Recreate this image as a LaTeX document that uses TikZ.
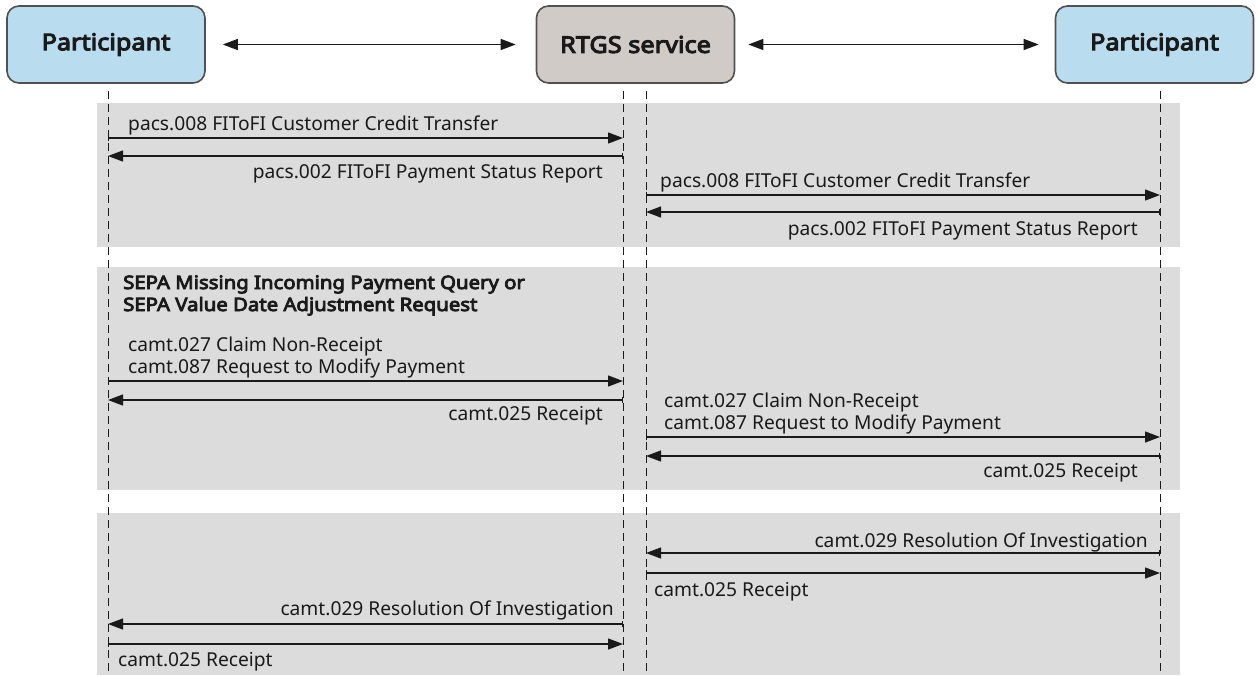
\documentclass[tikz,border=0pt]{standalone}
\usepackage{fontspec}
\setmainfont{Noto Sans}
\newfontfamily\heavyface{Noto Sans}[FakeBold=4.5,FakeStretch=1.1]
\usetikzlibrary{arrows.meta}

\definecolor{partblue}{HTML}{B9DCEE}
\definecolor{rtgsgray}{HTML}{D0CBC6}
\definecolor{boxline}{HTML}{505050}
\definecolor{bandgray}{HTML}{DCDCDC}
\definecolor{ink}{HTML}{1A1A1A}

\begin{document}
\begin{tikzpicture}[x=1pt,y=-1pt,
  actor/.style={draw=boxline, line width=1.6pt, rounded corners=12pt,
    minimum width=198pt, minimum height=77pt, inner sep=0pt,
    font=\heavyface\fontsize{23}{26}\selectfont, text=ink},
  band/.style={fill=bandgray, draw=none},
  lifeline/.style={draw=ink, line width=0.9pt, dash pattern=on 8pt off 5pt},
  msg/.style={draw=ink, line width=1.3pt,
    arrows={Bar[width=6pt,line width=0.8pt]-Triangle[length=15pt,width=11pt]}},
  link/.style={draw=ink, line width=1.3pt,
    arrows={Triangle[length=15pt,width=11pt]-Triangle[length=15pt,width=11pt]}},
  lbl/.style={inner sep=0pt, text=ink, font=\fontsize{19.2}{22}\selectfont},
  head/.style={inner sep=0pt, text=ink, font=\heavyface\fontsize{18.5}{22}\selectfont}
]
\useasboundingbox (0,0) rectangle (1258,675);

% grey background bands for the three exchanges
\fill[band] (97,103) rectangle (1180,247);
\fill[band] (97,267) rectangle (1180,490);
\fill[band] (97,513) rectangle (1180,675);

% actors
\node[actor, fill=partblue] (p1) at (106,44.5) {Participant};
\node[actor, fill=rtgsgray] (rtgs) at (635.5,44.5) {RTGS service};
\node[actor, fill=partblue] (p2) at (1154.5,44.5) {Participant};

\draw[link, shorten <=17pt, shorten >=20pt] (p1.east) -- (rtgs.west);
\draw[link, shorten <=13pt, shorten >=16pt] (rtgs.east) -- (p2.west);

% lifelines
\coordinate (lA0) at (108,91);   \coordinate (lA1) at (108,675);
\coordinate (lB0) at (623,91);   \coordinate (lB1) at (623,675);
\coordinate (lC0) at (646,91);   \coordinate (lC1) at (646,675);
\coordinate (lD0) at (1160,91);  \coordinate (lD1) at (1160,675);
\draw[lifeline] (lA0) -- (lA1);
\draw[lifeline] (lB0) -- (lB1);
\draw[lifeline] (lC0) -- (lC1);
\draw[lifeline] (lD0) -- (lD1);

% --- pacs.008 / pacs.002 ---
\coordinate (a1) at (108,138);  \coordinate (b1) at (623,138);
\coordinate (a2) at (108,156);  \coordinate (b2) at (623,156);
\draw[msg] (a1) -- (b1);
\draw[msg] (b2) -- (a2);
\node[lbl, anchor=base west] (t1) at (128,130) {pacs.008 FIToFI Customer Credit Transfer};
\node[lbl, anchor=base east] (t2) at (603,178) {pacs.002 FIToFI Payment Status Report};

\coordinate (c1) at (646,195);  \coordinate (d1) at (1160,195);
\coordinate (c2) at (646,212);  \coordinate (d2) at (1160,212);
\draw[msg] (c1) -- (d1);
\draw[msg] (d2) -- (c2);
\node[lbl, anchor=base west] (t3) at (660,187) {pacs.008 FIToFI Customer Credit Transfer};
\node[lbl, anchor=base east] (t4) at (1138,235) {pacs.002 FIToFI Payment Status Report};

% --- claim non-receipt / modify payment ---
\node[head, anchor=base west] (h1) at (123,289) {SEPA Missing Incoming Payment Query or};
\node[head, anchor=base west] (h2) at (123,311) {SEPA Value Date Adjustment Request};

\coordinate (a3) at (108,381);  \coordinate (b3) at (623,381);
\coordinate (a4) at (108,400);  \coordinate (b4) at (623,400);
\draw[msg] (a3) -- (b3);
\draw[msg] (b4) -- (a4);
\node[lbl, anchor=base west] (t5) at (128,351) {camt.027 Claim Non-Receipt};
\node[lbl, anchor=base west] (t6) at (128,373) {camt.087 Request to Modify Payment};
\node[lbl, anchor=base east] (t7) at (603,420) {camt.025 Receipt};

\coordinate (c3) at (646,437);  \coordinate (d3) at (1160,437);
\coordinate (c4) at (646,456);  \coordinate (d4) at (1160,456);
\draw[msg] (c3) -- (d3);
\draw[msg] (d4) -- (c4);
\node[lbl, anchor=base west] (t8) at (664,407) {camt.027 Claim Non-Receipt};
\node[lbl, anchor=base west] (t9) at (664,429) {camt.087 Request to Modify Payment};
\node[lbl, anchor=base east] (t10) at (1138,477) {camt.025 Receipt};

% --- resolution of investigation ---
\coordinate (c5) at (646,553);  \coordinate (d5) at (1160,553);
\coordinate (c6) at (646,573);  \coordinate (d6) at (1160,573);
\draw[msg] (d5) -- (c5);
\draw[msg] (c6) -- (d6);
\node[lbl, anchor=base east] (t11) at (1148,547) {camt.029 Resolution Of Investigation};
\node[lbl, anchor=base west] (t12) at (654,596) {camt.025 Receipt};

\coordinate (a5) at (108,624);  \coordinate (b5) at (623,624);
\coordinate (a6) at (108,644);  \coordinate (b6) at (623,644);
\draw[msg] (b5) -- (a5);
\draw[msg] (a6) -- (b6);
\node[lbl, anchor=base east] (t13) at (614,615) {camt.029 Resolution Of Investigation};
\node[lbl, anchor=base west] (t14) at (118,666) {camt.025 Receipt};
\end{tikzpicture}
\end{document}
